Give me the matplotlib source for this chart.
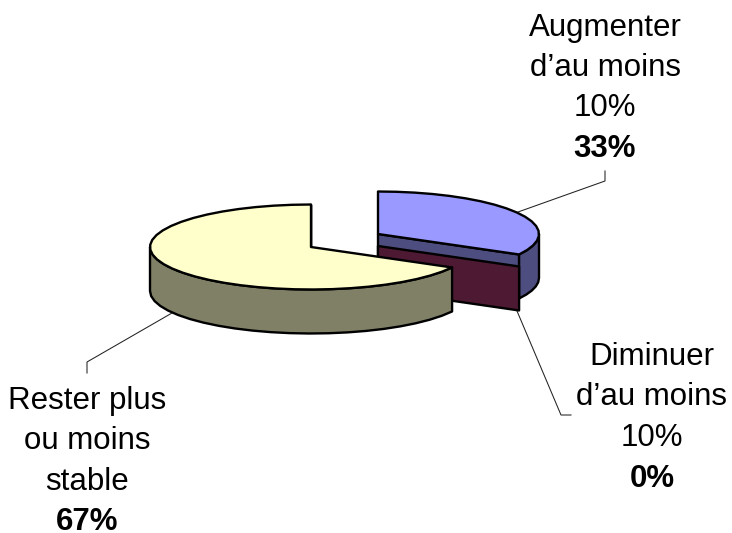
import matplotlib.pyplot as plt
import numpy as np
from matplotlib.patches import Polygon

plt.rcParams['font.family'] = ['Liberation Sans', 'DejaVu Sans']

# Data
labels = [['Augmenter', 'd’au moins', '10%'],
          ['Diminuer', 'd’au moins', '10%'],
          ['Rester plus', 'ou moins', 'stable']]
values = [33, 0, 67]
pct_labels = ['33%', '0%', '67%']

top_colors = ['#9999ff', '#993366', '#ffffcc']
side_colors = ['#4d4d80', '#4d1933', '#808066']

# pie geometry, in pixels of the reference
rx, ry = 161, 42.5
depth = 44
apex = [(378, 234), (378, 246), (311, 247)]
label_x = [605, 652, 87.5]
label_y = [[36, 76, 116], [365, 405, 446], [409, 449, 490]]
pct_y = [157, 487, 530]
leaders = [[(518, 212), (605, 181), (605, 171)],
           [(517, 311), (561, 415), (571, 415)],
           [(172, 313), (87, 362), (87, 373)]]

fig = plt.figure(figsize=(7.32, 5.33), dpi=100)
ax = fig.add_axes([0, 0, 1, 1])
ax.set_xlim(0, 732)
ax.set_ylim(533, 0)
ax.axis('off')

# slice limits, clockwise from 12 o'clock
edges = np.cumsum([0] + values) / sum(values) * 2 * np.pi


def arc(cx, cy, a0, a1):
    n = max(2, int(abs(a1 - a0) / 0.12) + 2)
    t = np.linspace(a0, a1, n)
    return np.column_stack([cx + rx * np.sin(t), cy - ry * np.cos(t)])


def draw_slice(i, z):
    cx, cy = apex[i]
    a0, a1 = edges[i], edges[i + 1]
    dn = np.array([0, depth])
    p1 = arc(cx, cy, a1, a1)[0]
    line = dict(edgecolor='black', linewidth=1.7, joinstyle='round')
    # flat wall on the trailing edge of the slice
    wall = np.array([(cx, cy), p1, p1 + dn, (cx, cy + depth)])
    ax.add_patch(Polygon(wall, closed=True, facecolor=side_colors[i], zorder=z, **line))
    # outer wall, only the part that faces the viewer
    lo, hi = max(a0, np.pi / 2), min(a1, 3 * np.pi / 2)
    if hi > lo:
        rim = arc(cx, cy, lo, hi)
        ax.add_patch(Polygon(np.vstack([rim, (rim + dn)[::-1]]), closed=True,
                             facecolor=side_colors[i], zorder=z, **line))
    if a1 > a0:
        top = np.vstack([[(cx, cy)], arc(cx, cy, a0, a1)])
        ax.add_patch(Polygon(top, closed=True, facecolor=top_colors[i], zorder=z + 0.5, **line))


# back to front: blue, then the empty slice, then yellow
draw_slice(0, 2)
draw_slice(1, 3)
draw_slice(2, 4)

for pts in leaders:
    xs, ys = zip(*pts)
    ax.plot(xs, ys, color='#222222', linewidth=0.75, zorder=1)

for i in range(len(labels)):
    for line, y in zip(labels[i], label_y[i]):
        ax.text(label_x[i], y, line, fontsize=22.5, ha='center', va='baseline', color='black')
    ax.text(label_x[i], pct_y[i], pct_labels[i], fontsize=22.5, fontweight='bold',
            ha='center', va='baseline', color='black')

plt.savefig('out.png', dpi=100)
plt.close()
